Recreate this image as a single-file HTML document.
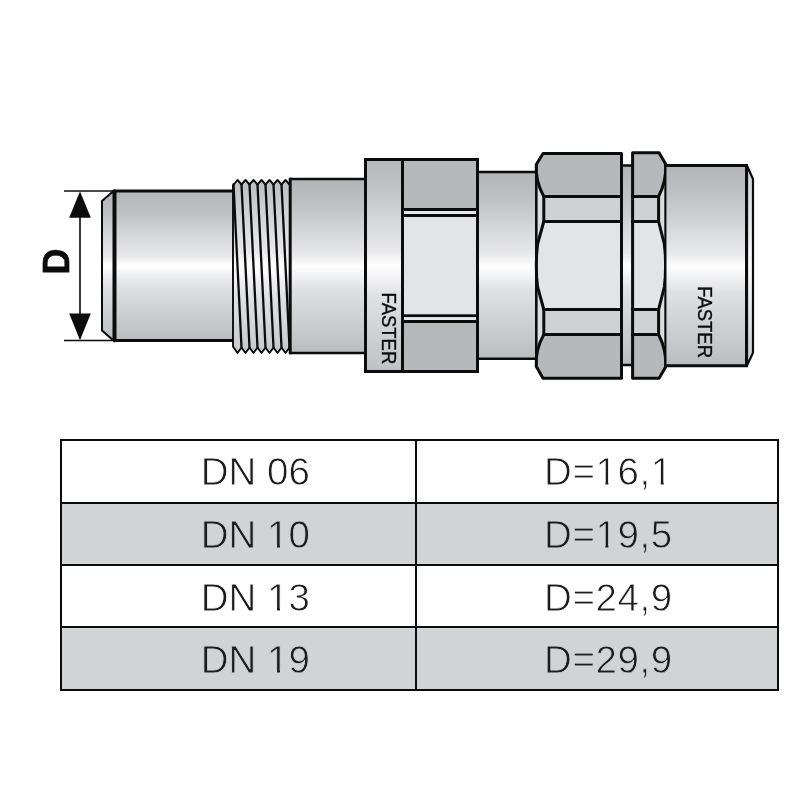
<!DOCTYPE html>
<html><head><meta charset="utf-8"><style>
html,body{margin:0;padding:0;background:#fff;width:800px;height:800px;overflow:hidden}
svg{display:block;will-change:transform}
text{font-family:"Liberation Sans",sans-serif}
</style></head><body>
<svg width="800" height="800" viewBox="0 0 800 800">

<defs>
<linearGradient id="cyl" x1="0" y1="0" x2="0" y2="1">
 <stop offset="0" stop-color="#b3b4b8"/>
 <stop offset="0.16" stop-color="#c1c2c6"/>
 <stop offset="0.32" stop-color="#d8d9dc"/>
 <stop offset="0.44" stop-color="#e9e9eb"/>
 <stop offset="0.5" stop-color="#fefefe"/>
 <stop offset="0.545" stop-color="#f5f5f6"/>
 <stop offset="0.63" stop-color="#e0e1e3"/>
 <stop offset="0.76" stop-color="#d3d4d7"/>
 <stop offset="0.9" stop-color="#c6c7cb"/>
 <stop offset="1" stop-color="#babbbf"/>
</linearGradient>
<linearGradient id="cylA" gradientUnits="userSpaceOnUse" x1="0" y1="150" x2="0" y2="381">
 <stop offset="0" stop-color="#b3b4b8"/>
 <stop offset="0.16" stop-color="#c1c2c6"/>
 <stop offset="0.32" stop-color="#d8d9dc"/>
 <stop offset="0.44" stop-color="#e9e9eb"/>
 <stop offset="0.5" stop-color="#fefefe"/>
 <stop offset="0.545" stop-color="#f5f5f6"/>
 <stop offset="0.63" stop-color="#e0e1e3"/>
 <stop offset="0.76" stop-color="#d3d4d7"/>
 <stop offset="0.9" stop-color="#c6c7cb"/>
 <stop offset="1" stop-color="#babbbf"/>
</linearGradient>
<linearGradient id="cylL" x1="0" y1="0" x2="0" y2="1">
 <stop offset="0" stop-color="#cfd0d3"/>
 <stop offset="0.5" stop-color="#fafafa"/>
 <stop offset="1" stop-color="#cbccd0"/>
</linearGradient>
</defs>

<line x1="64" y1="191" x2="113" y2="191" stroke="#0c0c0c" stroke-width="1.6"/>
<line x1="64" y1="340.5" x2="113" y2="340.5" stroke="#0c0c0c" stroke-width="1.6"/>
<line x1="80" y1="210" x2="80" y2="320" stroke="#0c0c0c" stroke-width="1.6"/>
<path d="M80 191.2 L69.2 217.8 L90.8 217.8 Z" fill="#0c0c0c"/>
<path d="M80 340.3 L69.2 313.6 L90.8 313.6 Z" fill="#0c0c0c"/>
<text x="0" y="0" transform="translate(69,261.5) rotate(-90)" font-family="Liberation Sans" font-weight="bold" font-size="36" text-anchor="middle" fill="#0c0c0c" stroke="#0c0c0c" stroke-width="0.7">D</text>
<path d="M113.5 191 L102 201 L102 330.5 L113.5 340.5 Z" fill="url(#cyl)" stroke="#0c0c0c" stroke-width="2" stroke-linejoin="miter"/>
<rect x="115" y="191" width="120" height="149.5" fill="url(#cyl)"/>
<path d="M235 191 L115 191 L115 340.5 L235 340.5" fill="none" stroke="#0c0c0c" stroke-width="3"/>
<path d="M233 191 L233 185.5 L237.5 180 L241.5 184.5 L245.5 180 L249.5 184.5 L253.5 180 L257.5 184.5 L261.5 180 L265.5 184.5 L269.5 180 L273.5 184.5 L277.5 180 L281.5 184.5 L285.5 180 L289.5 184.5 L290 184.5 L290 347.5 L289.5 347.5 L285.5 353 L281.5 347.5 L277.5 353 L273.5 347.5 L269.5 353 L265.5 347.5 L261.5 353 L257.5 347.5 L253.5 353 L249.5 347.5 L245.5 353 L241.5 347.5 L237.5 353 L233 346.5 Z" fill="url(#cylA)" stroke="#0c0c0c" stroke-width="1.9" stroke-linejoin="round"/>
<path d="M233.5 184.5 L241.5 347.5" fill="none" stroke="#0c0c0c" stroke-width="2.3" stroke-linecap="round"/>
<path d="M241.5 184.5 L249.5 347.5" fill="none" stroke="#0c0c0c" stroke-width="2.3" stroke-linecap="round"/>
<path d="M249.5 184.5 L257.5 347.5" fill="none" stroke="#0c0c0c" stroke-width="2.3" stroke-linecap="round"/>
<path d="M257.5 184.5 L265.5 347.5" fill="none" stroke="#0c0c0c" stroke-width="2.3" stroke-linecap="round"/>
<path d="M265.5 184.5 L273.5 347.5" fill="none" stroke="#0c0c0c" stroke-width="2.3" stroke-linecap="round"/>
<path d="M273.5 184.5 L281.5 347.5" fill="none" stroke="#0c0c0c" stroke-width="2.3" stroke-linecap="round"/>
<path d="M281.5 184.5 L289.5 347.5" fill="none" stroke="#0c0c0c" stroke-width="2.3" stroke-linecap="round"/>
<rect x="290" y="179" width="76" height="174" fill="url(#cyl)"/>
<path d="M290 179 L366 179 M290 353 L366 353" stroke="#0c0c0c" stroke-width="2.6"/>
<line x1="290.2" y1="177.7" x2="290.2" y2="354.3" stroke="#0c0c0c" stroke-width="3"/>
<rect x="365.5" y="159.5" width="37" height="212" fill="url(#cylA)" stroke="#0c0c0c" stroke-width="3"/>
<rect x="402.5" y="159.5" width="75" height="50" fill="#b7b8bc" stroke="#0c0c0c" stroke-width="3"/>
<rect x="404" y="211" width="72" height="3" fill="#e6e7e9" stroke="none"/>
<rect x="402.5" y="215.5" width="75" height="100.3" fill="#e3e4e6" stroke="#0c0c0c" stroke-width="3"/>
<rect x="404" y="317.3" width="72" height="2.7" fill="#e6e7e9" stroke="none"/>
<rect x="402.5" y="321.5" width="75" height="50" fill="#b7b8bc" stroke="#0c0c0c" stroke-width="3"/>
<path d="M402.5 209.5 L402.5 321.5 M477.5 209.5 L477.5 321.5" stroke="#0c0c0c" stroke-width="3"/>
<text transform="translate(381.6,328.3) rotate(90) scale(0.88,1)" font-family="Liberation Sans" font-size="21" text-anchor="middle" fill="#0c0c0c" stroke="#0c0c0c" stroke-width="0.35">FASTER</text>
<rect x="479" y="172" width="58" height="187" fill="url(#cyl)"/>
<path d="M479 172 L537 172 M479 358.8 L537 358.8" stroke="#0c0c0c" stroke-width="2.6"/>
<path d="M542.5 153.5 L621.5 153.5 L621.5 378.3 L542.5 378.3 L536.3 366 L536.3 165 Z" fill="#dcdde0"/>
<path d="M543.0 153.5 L621.5 153.5 L621.5 196.5 L543.8 196.5 C536.9 184 535.6999999999999 172 536.3 164.5 Z" fill="#b7b8bc" stroke="#0c0c0c" stroke-width="3" stroke-linejoin="round"/>
<path d="M543.8 196.5 L621.5 196.5 L621.5 221.5 L543.8 221.5 Z" fill="#d0d1d4" stroke="#0c0c0c" stroke-width="3"/>
<path d="M543.8 221.5 L621.5 221.5 L621.5 309.5 L543.8 309.5 L537.6 287 Q536.3 277 536.3 265.5 Q536.3 254 537.6 244 Z" fill="#e3e4e6" stroke="#0c0c0c" stroke-width="3" stroke-linejoin="round"/>
<path d="M543.8 309.5 L621.5 309.5 L621.5 334.5 L543.8 334.5 Z" fill="#d0d1d4" stroke="#0c0c0c" stroke-width="3"/>
<path d="M543.0 378.3 L621.5 378.3 L621.5 334.5 L543.8 334.5 C536.9 347 535.6999999999999 359 536.3 366.5 Z" fill="#b7b8bc" stroke="#0c0c0c" stroke-width="3" stroke-linejoin="round"/>
<line x1="536.3" y1="165" x2="536.3" y2="366" stroke="#0c0c0c" stroke-width="2.6"/>
<rect x="623" y="165.5" width="9" height="199.5" fill="url(#cyl)"/>
<path d="M622 165.5 L633 165.5 M622 365 L633 365" stroke="#0c0c0c" stroke-width="2.6"/>
<path d="M632.6 152.8 L659.1 152.8 L665.6 163.5 L665.6 367 L659.1 378.3 L632.6 378.3 Z" fill="#dcdde0"/>
<path d="M632.6 152.8 L659.1 152.8 L665.6 164 C666.2 172 665.0 184 658.6 196.5 L632.6 196.5 Z" fill="#b7b8bc" stroke="#0c0c0c" stroke-width="3" stroke-linejoin="round"/>
<path d="M632.6 196.5 L658.6 196.5 L658.6 221.5 L632.6 221.5 Z" fill="#d0d1d4" stroke="#0c0c0c" stroke-width="3"/>
<path d="M632.6 221.5 L658.6 221.5 L664.3 244 Q665.6 254 665.6 265.5 Q665.6 277 664.3 287 L658.6 309.5 L632.6 309.5 Z" fill="#e3e4e6" stroke="#0c0c0c" stroke-width="3" stroke-linejoin="round"/>
<path d="M632.6 309.5 L658.6 309.5 L658.6 334.5 L632.6 334.5 Z" fill="#d0d1d4" stroke="#0c0c0c" stroke-width="3"/>
<path d="M632.6 378.3 L659.1 378.3 L665.6 367 C666.2 359 665.0 347 658.6 334.5 L632.6 334.5 Z" fill="#b7b8bc" stroke="#0c0c0c" stroke-width="3" stroke-linejoin="round"/>
<line x1="665.6" y1="163.5" x2="665.6" y2="367" stroke="#0c0c0c" stroke-width="2.6"/>
<rect x="666.5" y="165.5" width="80" height="200.3" fill="url(#cyl)"/>
<path d="M666 165.5 L746.5 165.5 L746.5 365.8 L666 365.8" fill="none" stroke="#0c0c0c" stroke-width="3"/>
<path d="M747 165.8 L753 179 L753 352.7 L747 365.5 Z" fill="url(#cylL)" stroke="#0c0c0c" stroke-width="2.2" stroke-linejoin="round"/>
<text transform="translate(698,322.1) rotate(90) scale(0.88,1)" font-family="Liberation Sans" font-size="21" text-anchor="middle" fill="#0c0c0c" stroke="#0c0c0c" stroke-width="0.35">FASTER</text>
<rect x="61" y="502" width="717" height="62" fill="#d2d3d5"/>
<rect x="61" y="626" width="717" height="63" fill="#d2d3d5"/>
<rect x="60" y="439" width="719" height="2" fill="#0c0c0c"/>
<rect x="60" y="502" width="719" height="2" fill="#0c0c0c"/>
<rect x="60" y="564" width="719" height="2" fill="#0c0c0c"/>
<rect x="60" y="626" width="719" height="2" fill="#0c0c0c"/>
<rect x="60" y="689" width="719" height="2" fill="#0c0c0c"/>
<rect x="60" y="439" width="2" height="252" fill="#0c0c0c"/>
<rect x="415" y="439" width="2" height="252" fill="#0c0c0c"/>
<rect x="777" y="439" width="2" height="252" fill="#0c0c0c"/>
<text x="200.8" y="485" font-family="Liberation Sans" font-size="38.5" fill="#1c1c1c" stroke="#ffffff" stroke-width="0.8">DN 06</text>
<text x="544" y="485" letter-spacing="0.6" font-family="Liberation Sans" font-size="38.5" fill="#1c1c1c" stroke="#ffffff" stroke-width="0.8">D=16,1</text>
<text x="200.8" y="548" font-family="Liberation Sans" font-size="38.5" fill="#1c1c1c" stroke="#d2d3d5" stroke-width="0.8">DN 10</text>
<text x="544" y="548" letter-spacing="0.6" font-family="Liberation Sans" font-size="38.5" fill="#1c1c1c" stroke="#d2d3d5" stroke-width="0.8">D=19,5</text>
<text x="200.8" y="610.5" font-family="Liberation Sans" font-size="38.5" fill="#1c1c1c" stroke="#ffffff" stroke-width="0.8">DN 13</text>
<text x="544" y="610.5" letter-spacing="0.6" font-family="Liberation Sans" font-size="38.5" fill="#1c1c1c" stroke="#ffffff" stroke-width="0.8">D=24,9</text>
<text x="200.8" y="673" font-family="Liberation Sans" font-size="38.5" fill="#1c1c1c" stroke="#d2d3d5" stroke-width="0.8">DN 19</text>
<text x="544" y="673" letter-spacing="0.6" font-family="Liberation Sans" font-size="38.5" fill="#1c1c1c" stroke="#d2d3d5" stroke-width="0.8">D=29,9</text>
<rect x="597.28" y="481.5" width="8.1" height="4.5" fill="#ffffff"/>
<rect x="608.38" y="481.5" width="7.6" height="4.5" fill="#ffffff"/>
<rect x="652.60" y="481.5" width="8.1" height="4.5" fill="#ffffff"/>
<rect x="663.70" y="481.5" width="7.6" height="4.5" fill="#ffffff"/>
<rect x="268.90" y="544.5" width="8.1" height="4.5" fill="#d2d3d5"/>
<rect x="280.00" y="544.5" width="7.6" height="4.5" fill="#d2d3d5"/>
<rect x="597.28" y="544.5" width="8.1" height="4.5" fill="#d2d3d5"/>
<rect x="608.38" y="544.5" width="7.6" height="4.5" fill="#d2d3d5"/>
<rect x="268.90" y="607.0" width="8.1" height="4.5" fill="#ffffff"/>
<rect x="280.00" y="607.0" width="7.6" height="4.5" fill="#ffffff"/>
<rect x="268.90" y="669.5" width="8.1" height="4.5" fill="#d2d3d5"/>
<rect x="280.00" y="669.5" width="7.6" height="4.5" fill="#d2d3d5"/>
</svg>
</body></html>
